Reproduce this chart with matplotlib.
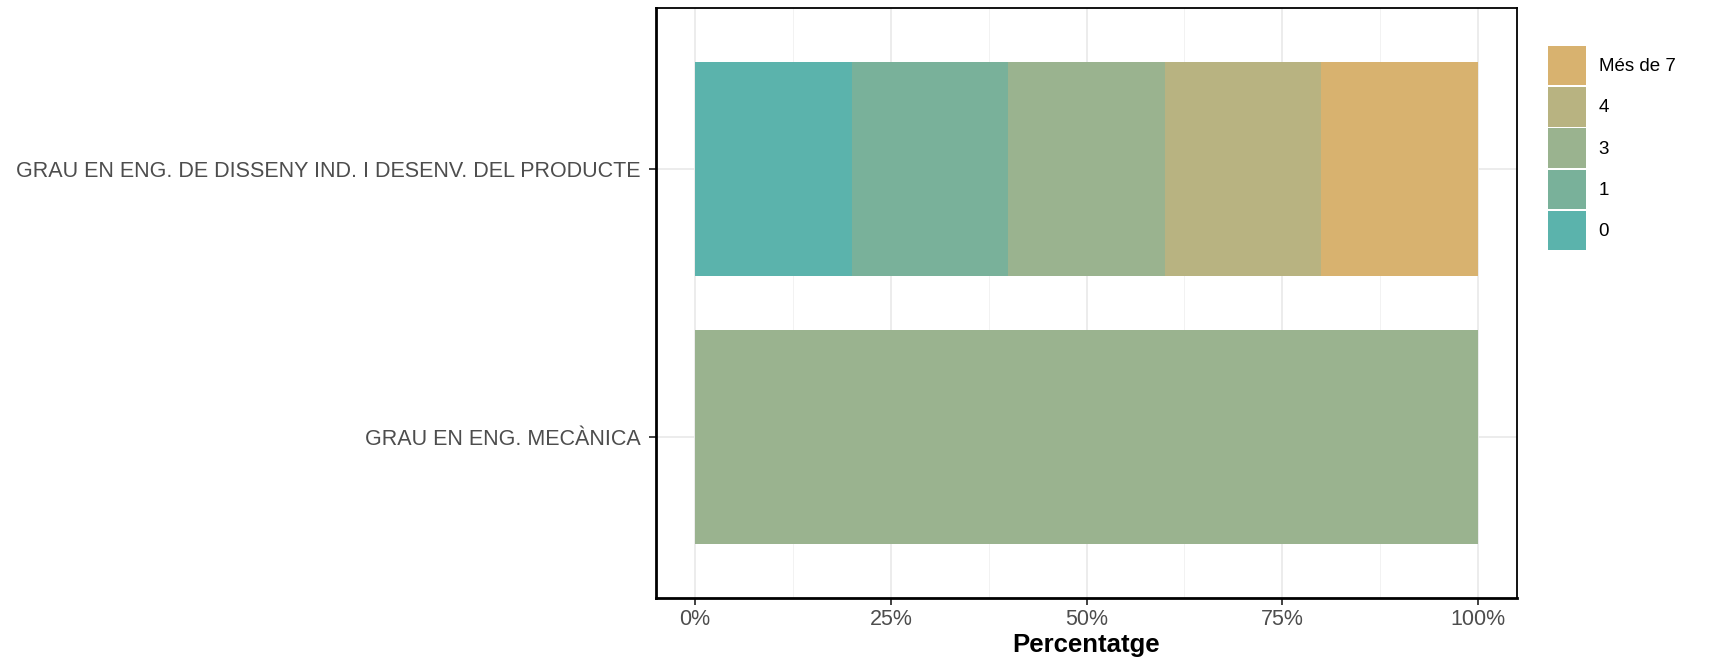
import matplotlib
matplotlib.use("Agg")
import matplotlib.pyplot as plt
import numpy as np

plt.rcParams['font.family'] = ['Liberation Sans', 'DejaVu Sans']

categories = ["GRAU EN ENG. MECÀNICA", "GRAU EN ENG. DE DISSENY IND. I DESENV. DEL PRODUCTE"]
series_labels = ["0", "1", "3", "4", "Més de 7"]
# percentages per series, for each category (same order as categories)
values = {
    "0": [0, 20],
    "1": [0, 20],
    "3": [100, 20],
    "4": [0, 20],
    "Més de 7": [0, 20],
}
colors = {
    "0": "#5BB3AC",
    "1": "#79B19A",
    "3": "#9AB38F",
    "4": "#B8B381",
    "Més de 7": "#D8B26F",
}
xticks = [0, 25, 50, 75, 100]
xtick_labels = ["0%", "25%", "50%", "75%", "100%"]

W, H = 1711, 665
fig = plt.figure(figsize=(W/100, H/100), dpi=100)
ax = fig.add_axes([656/W, 1-598/H, (1517-656)/W, (598-8)/H])

ypos = np.arange(1, len(categories)+1)
left = np.zeros(len(categories))
for s in series_labels:
    v = np.array(values[s], dtype=float)
    ax.barh(ypos, v, left=left, height=0.8, color=colors[s], zorder=2, label=s)
    left += v

ax.set_xlim(-5, 105)
ax.set_ylim(0.4, 2.6)
ax.set_xticks(xticks)
ax.set_xticklabels(xtick_labels)
ax.set_xticks([12.5, 37.5, 62.5, 87.5], minor=True)
ax.set_yticks(ypos)
ax.set_yticklabels(categories)
ax.grid(True, which='major', color='#EBEBEB', lw=1.3, zorder=0)
ax.grid(True, which='minor', axis='x', color='#F2F2F2', lw=0.7, zorder=0)
ax.tick_params(axis='both', which='major', labelsize=15.5, colors='#4D4D4D', length=5, width=1.3)
ax.tick_params(axis='x', which='major', pad=3)
ax.tick_params(axis='y', which='major', pad=6)
ax.tick_params(axis='both', which='minor', length=0)
ax.tick_params(axis='both', which='major', color='#333333')
for sp in ax.spines.values():
    sp.set_color('black')
    sp.set_linewidth(1.3)
ax.spines['left'].set_linewidth(2)
ax.spines['bottom'].set_linewidth(2)
ax.set_xlabel("Percentatge", fontsize=18.5, fontweight='bold', labelpad=2)

# legend
handles, labels = ax.get_legend_handles_labels()
leg = fig.legend(handles[::-1], labels[::-1], loc='upper left',
                 bbox_to_anchor=(1548/W, 1-46/H), frameon=False,
                 fontsize=13.5, handlelength=2.05, handleheight=2.85,
                 handletextpad=0.65, labelspacing=0.1, borderaxespad=0,
                 borderpad=0)
fig.savefig("out.png", dpi=100)
